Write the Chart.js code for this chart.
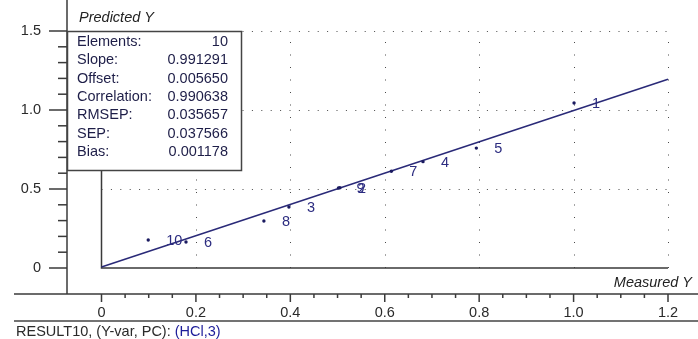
<!DOCTYPE html>
<html><head><meta charset="utf-8">
<script src="https://cdn.jsdelivr.net/npm/chart.js@4.4.0/dist/chart.umd.min.js"></script>
<style>html,body{margin:0;padding:0;background:#fff;overflow:hidden}#wrap{width:698px;height:339px;position:relative}</style>
</head><body><div id="wrap"><canvas id="c" width="698" height="339"></canvas></div>
<script>
const sampleLabels = ['1','2','3','4','5','6','7','8','9','10'];
const measuredY  = [1.001, 0.505, 0.397, 0.681, 0.794, 0.179, 0.614, 0.344, 0.502, 0.099];
const predictedY = [1.044, 0.508, 0.386, 0.673, 0.759, 0.165, 0.612, 0.297, 0.506, 0.177];
const fitX = [0, 1.2];
const fitY = [0.006, 1.195];
const xTickValues = [0, 0.2, 0.4, 0.6, 0.8, 1.0, 1.2];
const xTickLabels = ['0', '0.2', '0.4', '0.6', '0.8', '1.0', '1.2'];
const yTickValues = [0, 0.5, 1.0, 1.5];
const yTickLabels = ['0', '0.5', '1.0', '1.5'];
const statNames  = ['Elements:', 'Slope:', 'Offset:', 'Correlation:', 'RMSEP:', 'SEP:', 'Bias:'];
const statValues = ['10', '0.991291', '0.005650', '0.990638', '0.035657', '0.037566', '0.001178'];
const xTitle = 'Measured Y';
const yTitle = 'Predicted Y';
const footerMain = 'RESULT10, (Y-var, PC): ';
const footerSel = '(HCl,3)';

const FONT = '14.5px "Liberation Sans", Arial, sans-serif';
const IFONT = 'italic 14.5px "Liberation Sans", Arial, sans-serif';
const AXIS = '#3a3a3a';

const decor = {
  id: 'decor',
  beforeDatasetsDraw(chart) {
    const ctx = chart.ctx, xs = chart.scales.x, ys = chart.scales.y;
    const X = v => xs.getPixelForValue(v), Y = v => ys.getPixelForValue(v);
    const ca = chart.chartArea;
    ctx.save();
    // dotted grid
    ctx.strokeStyle = '#4a4a4a'; ctx.lineWidth = 1;
    ctx.setLineDash([1, 8.4]);
    yTickValues.slice(1).forEach(v => {
      const y = Math.round(Y(v)) + 0.5;
      ctx.beginPath(); ctx.moveTo(X(0), y); ctx.lineTo(X(1.2), y); ctx.stroke();
    });
    ctx.setLineDash([1, 11.5]);
    xTickValues.slice(1).forEach(v => {
      const x = Math.round(X(v)) + 0.5;
      ctx.beginPath(); ctx.moveTo(x, Y(0)); ctx.lineTo(x, Y(1.5)); ctx.stroke();
    });
    ctx.setLineDash([]);
    // inner frame
    ctx.strokeStyle = AXIS; ctx.lineWidth = 1.5;
    ctx.beginPath(); ctx.moveTo(X(0), Y(1.5)); ctx.lineTo(X(0), Y(0)); ctx.lineTo(X(1.2), Y(0)); ctx.stroke();
    // outer axes
    const ax = ca.left, ay = ca.bottom;
    ctx.beginPath(); ctx.moveTo(ax, 0); ctx.lineTo(ax, ay); ctx.stroke();
    ctx.beginPath(); ctx.moveTo(14, ay); ctx.lineTo(698, ay); ctx.stroke();
    // tick marks (major + minor)
    for (let k = 0; k <= 24; k++) {
      const x = X(k * 0.05), major = k % 4 === 0;
      ctx.beginPath(); ctx.moveTo(x, ay); ctx.lineTo(x, ay + (major ? 8 : 4)); ctx.stroke();
    }
    for (let k = 0; k <= 15; k++) {
      const y = Y(k * 0.1), major = k % 5 === 0;
      ctx.beginPath(); ctx.moveTo(ax - (major ? 18 : 9), y); ctx.lineTo(ax, y); ctx.stroke();
    }
    // separator + footer
    ctx.strokeStyle = '#444';
    ctx.beginPath(); ctx.moveTo(14, 321); ctx.lineTo(698, 321); ctx.stroke();
    ctx.font = FONT; ctx.textBaseline = 'middle'; ctx.textAlign = 'left';
    ctx.fillStyle = '#2a2a2a'; ctx.fillText(footerMain, 16, 332);
    const w = ctx.measureText(footerMain).width;
    ctx.fillStyle = '#1c1c9a'; ctx.fillText(footerSel, 16 + w, 332);
    // axis titles
    ctx.font = IFONT; ctx.fillStyle = '#222';
    ctx.textAlign = 'left'; ctx.fillText(yTitle, 79, 18);
    ctx.textAlign = 'right'; ctx.fillText(xTitle, 692, 283);
    ctx.restore();
  },
  afterDatasetsDraw(chart) {
    const ctx = chart.ctx, xs = chart.scales.x, ys = chart.scales.y;
    const X = v => xs.getPixelForValue(v), Y = v => ys.getPixelForValue(v);
    ctx.save();
    // point labels
    ctx.font = FONT; ctx.fillStyle = '#2c2c80'; ctx.textBaseline = 'middle'; ctx.textAlign = 'left';
    sampleLabels.forEach((t, i) => ctx.fillText(t, X(measuredY[i]) + 18, Y(predictedY[i]) + 1));
    // statistics box
    const bx = 67.5, by = 31.5, bw = 174, bh = 139;
    ctx.fillStyle = '#fff'; ctx.fillRect(bx, by, bw, bh);
    ctx.strokeStyle = '#444'; ctx.lineWidth = 1.5; ctx.strokeRect(bx, by, bw, bh);
    ctx.fillStyle = '#1e1e48';
    statNames.forEach((n, i) => {
      const y = 42 + i * 18.3;
      ctx.textAlign = 'left'; ctx.fillText(n, 77, y);
      ctx.textAlign = 'right'; ctx.fillText(statValues[i], 228, y);
    });
    ctx.restore();
  }
};

const tickFont = { family: '"Liberation Sans", Arial, sans-serif', size: 14.5 };
const chart = new Chart(document.getElementById('c'), {
  type: 'scatter',
  data: {
    datasets: [
      { data: measuredY.map((x, i) => ({ x, y: predictedY[i] })), pointRadius: 1.7, pointHoverRadius: 1.7,
        backgroundColor: '#1a1a60', borderColor: '#1a1a60', borderWidth: 0, showLine: false, clip: false },
      { data: fitX.map((x, i) => ({ x, y: fitY[i] })), showLine: true, pointRadius: 0,
        borderColor: '#2a2a78', borderWidth: 1.5, clip: false }
    ]
  },
  options: {
    responsive: false, animation: false, devicePixelRatio: 1,
    layout: { padding: 0 },
    plugins: { legend: { display: false }, tooltip: { enabled: false } },
    scales: {
      x: {
        type: 'linear', min: -0.073, max: 1.263,
        afterBuildTicks: s => { s.ticks = xTickValues.map(v => ({ value: v })); },
        afterFit: s => { s.height = 45; },
        ticks: { callback: (v, i) => xTickLabels[i], padding: 10, font: tickFont, color: '#2a2a2a', maxRotation: 0, autoSkip: false },
        grid: { display: false, drawTicks: false }, border: { display: false }
      },
      y: {
        type: 'linear', min: -0.165, max: 1.696,
        afterBuildTicks: s => { s.ticks = yTickValues.map(v => ({ value: v })); },
        afterFit: s => { s.width = 67; },
        ticks: { callback: (v, i) => yTickLabels[i], padding: 2, font: tickFont, color: '#2a2a2a', autoSkip: false },
        grid: { display: false, drawTicks: true, tickLength: 24, tickColor: 'rgba(0,0,0,0)' }, border: { display: false }
      }
    }
  },
  plugins: [decor]
});

// align the value scales to the target plot frame (0 -> px, 1.2 / 1.5 -> px)
for (let pass = 0; pass < 3; pass++) {
  const xs = chart.scales.x, ys = chart.scales.y;
  const xppu = (668 - 101.5) / 1.2, yppu = (268 - 31) / 1.5;
  const xmin = -(101.5 - xs.left) / xppu, xmax = xmin + (xs.right - xs.left) / xppu;
  const ymin = -(ys.bottom - 268) / yppu, ymax = ymin + (ys.bottom - ys.top) / yppu;
  Object.assign(chart.options.scales.x, { min: xmin, max: xmax });
  Object.assign(chart.options.scales.y, { min: ymin, max: ymax });
  chart.update();
}
</script>
</body></html>
